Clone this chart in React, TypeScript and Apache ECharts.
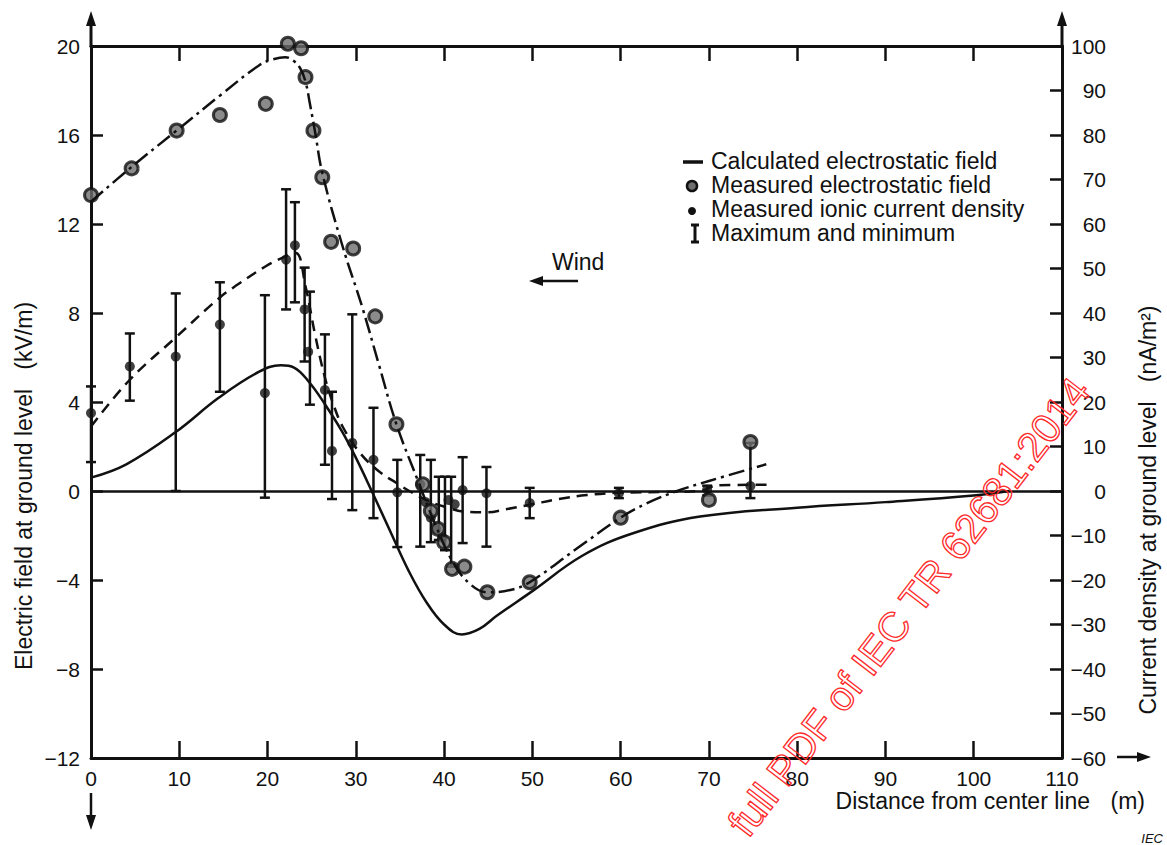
import React, { useEffect, useRef } from "react";
import * as echarts from "echarts";

// ---- data (x in m) ----
// Calculated electrostatic field (kV/m), dash-dot
const calcField: [number, number][] = [
  [0, 13.0], [4.4, 14.5], [9.7, 16.2], [14.7, 17.8], [19.1, 19.15], [20.6, 19.4], [22.0, 19.5],
  [22.9, 19.35], [23.7, 19.0], [24.3, 18.4], [24.8, 17.4], [25.4, 16.1], [26.2, 14.3], [28.5, 11.0],
  [30.7, 8.3], [32.6, 5.7], [34.6, 3.0], [37, 0.5], [39, -1.5], [41, -3.2], [43, -4.2], [44.9, -4.55],
  [47.5, -4.45], [49.7, -4.1], [55, -2.6], [60, -1.2], [63, -0.55], [66.4, 0], [70, 0.45], [76.5, 1.2],
];
// Measured electrostatic field (kV/m)
const measuredField: [number, number][] = [
  [0, 13.3], [4.6, 14.5], [9.7, 16.2], [14.6, 16.9], [19.8, 17.4], [22.3, 20.1], [23.8, 19.9],
  [24.3, 18.6], [25.2, 16.2], [26.2, 14.1], [27.2, 11.2], [29.7, 10.9], [32.2, 7.85], [34.6, 3.0],
  [37.6, 0.3], [38.5, -0.9], [39.3, -1.7], [40.0, -2.3], [40.9, -3.5], [42.3, -3.4], [44.9, -4.55],
  [49.7, -4.1], [60, -1.2], [70, -0.4], [74.7, 2.2],
];
// Measured ionic current density (nA/m2)
const ionicCurrent: [number, number][] = [
  [0, 17.5], [4.4, 28], [9.6, 30.2], [14.6, 37.4], [19.7, 22], [22.1, 52], [23.1, 55.2], [24.2, 40.8],
  [24.6, 31.3], [26.5, 22.7], [27.3, 9], [29.6, 10.8], [32, 7], [34.7, -0.3], [37.3, 1.5], [37.9, -2.5],
  [38.5, -6], [39.1, -8.5], [39.8, -10.5], [40.5, -2], [41.2, -3], [42.1, 0.2], [44.8, -0.5],
  [49.7, -2.7], [59.8, -0.5], [69.8, 0.3], [74.7, 1.1],
];
// Maximum and minimum (nA/m2): [x, min, max]
const maxMin: [number, number, number][] = [
  [0, 6.5, 23.5], [4.4, 20.3, 35.4], [9.6, 0, 44.4], [14.6, 22.3, 46.9], [19.7, -1.5, 44],
  [22.1, 40.8, 67.8], [23.1, 42.4, 64.9], [24.2, 29.1, 50.2], [24.8, 19.4, 44.8], [26.5, 5.9, 35.2],
  [27.3, -1.8, 22.3], [29.6, -4.3, 39.7], [32, -6.1, 18.7], [34.7, -12.6, 7.0], [37.3, -12.5, 8.1],
  [38.5, -11.5, 7.0], [39.4, -11, 3.2], [40.1, -13.3, 3.2], [40.8, -17, 3.2], [42.1, -11.7, 7.6],
  [44.8, -12.5, 5.4], [49.7, -6.1, 0.7], [59.8, -1.6, 0.7], [69.8, -1.0, 1.2], [74.7, -1.6, 10.8],
];
// Dashed curve (nA/m2)
const dashedCurve: [number, number][] = [
  [0, 14.5], [4.4, 25], [9.6, 34.5], [14.6, 43.5], [16.7, 46.5], [19.8, 50.5], [22.1, 52.8], [23.2, 53.5],
  [24.3, 46], [25.4, 35], [26.5, 25.5], [27.4, 19.8], [28.5, 14.5], [30.5, 8.5], [32.7, 4.3], [34.6, 1.8],
  [36.5, -0.5], [38.5, -2.5], [40.5, -3.8], [42.1, -4.6], [44.8, -4.8], [47, -4.1], [49.7, -3.1],
  [53, -1.8], [56.2, -0.9], [59.7, -0.4], [65, -0.2], [69, 0], [71, 1.3], [76.7, 1.4],
];
// Solid curve (kV/m)
const solidCurve: [number, number][] = [
  [0, 0.6], [4, 1.2], [9.6, 2.65], [14.5, 4.2], [19, 5.35], [21.5, 5.65], [23, 5.55], [24.7, 4.9],
  [26.5, 3.9], [28.4, 2.7], [30, 1.5], [31.8, 0], [34, -1.9], [36, -3.6], [38, -5.0], [40, -6.0],
  [42, -6.45], [44, -6.2], [46, -5.6], [50, -4.5], [55.7, -2.9], [61.4, -1.9], [69, -1.15],
  [80, -0.75], [90, -0.5], [100, -0.2], [104, 0],
];
const legendLabels = [
  "Calculated electrostatic field",
  "Measured electrostatic field",
  "Measured ionic current density",
  "Maximum and minimum",
];
const xTitle = "Distance from center line";
const xUnit = "(m)";
const yLeftTitle = "Electric field at ground level   (kV/m)";
const yRightTitle = "Current density at ground level   (nA/m\u00B2)";

const FONT = "Liberation Sans, Arial, sans-serif";
const INK = "#111";
const fmt = (v: number) => (v < 0 ? "\u2212" + Math.abs(v) : String(v));

export default function App() {
  const ref = useRef<HTMLDivElement>(null);
  useEffect(() => {
    if (!ref.current) return;
    const chart = echarts.init(ref.current, undefined, { renderer: "svg" });
    const lineW = 2.5;
    const smooth = 0.4;
    const axisCommon = {
      axisLine: { show: true, onZero: false, lineStyle: { color: INK, width: 3 } },
      splitLine: { show: false },
    };
    const arrowUp = (x: number) => [
      { type: "line", shape: { x1: x, y1: 47, x2: x, y2: 22 }, style: { stroke: INK, lineWidth: 3 } },
      { type: "polygon", shape: { points: [[x, 11], [x - 5, 26], [x + 5, 26]] }, style: { fill: INK } },
    ];
    const legendY = [161, 185, 209, 233];
    const option: any = {
      animation: false,
      grid: { left: 91, right: 105, top: 46, bottom: 87 },
      xAxis: [
        {
          type: "value", min: 0, max: 110, interval: 10, position: "bottom", ...axisCommon,
          axisTick: { show: true, inside: true, length: 17, lineStyle: { color: INK, width: 2.5 } },
          axisLabel: { fontSize: 21, margin: 10, color: INK, fontFamily: FONT },
        },
        {
          type: "value", min: 0, max: 110, interval: 10, position: "top", ...axisCommon,
          axisTick: { show: true, inside: true, length: 15, lineStyle: { color: INK, width: 2.5 } },
          axisLabel: { show: false },
        },
      ],
      yAxis: [
        {
          type: "value", min: -12, max: 20, interval: 4, position: "left", ...axisCommon,
          axisTick: { show: true, inside: true, length: 12, lineStyle: { color: INK, width: 2.5 } },
          axisLabel: { fontSize: 21, margin: 11, color: INK, fontFamily: FONT, formatter: fmt },
        },
        {
          type: "value", min: -60, max: 100, interval: 10, position: "right", ...axisCommon,
          axisTick: { show: true, inside: true, length: 12, lineStyle: { color: INK, width: 2.5 } },
          axisLabel: { fontSize: 21, margin: 44, align: "right", color: INK, fontFamily: FONT, formatter: fmt },
        },
      ],
      series: [
        {
          name: "solid", type: "line", data: solidCurve, xAxisIndex: 0, yAxisIndex: 0, showSymbol: false,
          smooth, clip: false,
          lineStyle: { color: INK, width: lineW, type: "solid" },
          markLine: {
            silent: true, symbol: "none", label: { show: false },
            lineStyle: { color: INK, width: 2.5, type: "solid" }, data: [{ yAxis: 0 }],
          },
        },
        {
          name: "dashed", type: "line", data: dashedCurve, xAxisIndex: 0, yAxisIndex: 1, showSymbol: false,
          smooth, clip: false,
          lineStyle: { color: INK, width: lineW, type: [11, 7] },
        },
        {
          name: legendLabels[0], type: "line", data: calcField, xAxisIndex: 0, yAxisIndex: 0, showSymbol: false,
          smooth, clip: false,
          lineStyle: { color: INK, width: lineW, type: [16, 5, 3, 5] },
        },
        {
          name: legendLabels[3], type: "custom", xAxisIndex: 0, yAxisIndex: 1, data: maxMin,
          encode: { x: 0, y: [1, 2] }, clip: false,
          renderItem: (_p: any, api: any) => {
            const x = api.value(0);
            const lo = api.coord([x, api.value(1)]);
            const hi = api.coord([x, api.value(2)]);
            const hw = 5;
            const style = { stroke: INK, lineWidth: 2.5 };
            return {
              type: "group",
              children: [
                { type: "line", shape: { x1: lo[0], y1: lo[1], x2: hi[0], y2: hi[1] }, style },
                { type: "line", shape: { x1: lo[0] - hw, y1: lo[1], x2: lo[0] + hw, y2: lo[1] }, style },
                { type: "line", shape: { x1: hi[0] - hw, y1: hi[1], x2: hi[0] + hw, y2: hi[1] }, style },
              ],
            };
          },
        },
        {
          name: legendLabels[2], type: "scatter", data: ionicCurrent, xAxisIndex: 0, yAxisIndex: 1,
          symbol: "circle", symbolSize: 10, clip: false, itemStyle: { color: INK },
        },
        {
          name: legendLabels[1], type: "scatter", data: measuredField, xAxisIndex: 0, yAxisIndex: 0,
          symbol: "circle", symbolSize: 13, clip: false,
          itemStyle: { color: "#6e6e6e", borderColor: "#111", borderWidth: 3 },
        },
      ],
      graphic: [
        ...arrowUp(91),
        ...arrowUp(1062),
        { type: "line", shape: { x1: 91, y1: 793, x2: 91, y2: 818 }, style: { stroke: INK, lineWidth: 2.5 } },
        { type: "polygon", shape: { points: [[91, 830], [86, 815], [96, 815]] }, style: { fill: INK } },
        { type: "line", shape: { x1: 1117, y1: 757, x2: 1140, y2: 757 }, style: { stroke: INK, lineWidth: 2.5 } },
        { type: "polygon", shape: { points: [[1151, 757], [1137, 752], [1137, 762]] }, style: { fill: INK } },
        // legend
        { type: "line", shape: { x1: 683, y1: 162, x2: 703, y2: 162 }, style: { stroke: INK, lineWidth: 3.5 } },
        { type: "circle", shape: { cx: 692, cy: 186, r: 5 }, style: { fill: "#6e6e6e", stroke: "#111", lineWidth: 2.5 } },
        { type: "circle", shape: { cx: 692, cy: 211, r: 4 }, style: { fill: INK } },
        { type: "line", shape: { x1: 695, y1: 225, x2: 695, y2: 242 }, style: { stroke: INK, lineWidth: 3 } },
        { type: "line", shape: { x1: 691, y1: 225, x2: 699, y2: 225 }, style: { stroke: INK, lineWidth: 3 } },
        { type: "line", shape: { x1: 691, y1: 242, x2: 699, y2: 242 }, style: { stroke: INK, lineWidth: 3 } },
        ...legendLabels.map((t, i) => ({
          type: "text", x: 711, y: legendY[i],
          style: { text: t, fill: INK, font: `23px ${FONT}`, verticalAlign: "middle" },
        })),
        // wind
        { type: "text", x: 552, y: 262, style: { text: "Wind", fill: INK, font: `23px ${FONT}`, verticalAlign: "middle" } },
        { type: "line", shape: { x1: 540, y1: 281, x2: 578, y2: 281 }, style: { stroke: INK, lineWidth: 2.5 } },
        { type: "polygon", shape: { points: [[529, 281], [543, 276], [543, 286]] }, style: { fill: INK } },
        // axis titles
        { type: "text", x: 1090, y: 801, style: { text: xTitle, fill: INK, font: `23px ${FONT}`, align: "right", verticalAlign: "middle" } },
        { type: "text", x: 1145, y: 801, style: { text: xUnit, fill: INK, font: `23px ${FONT}`, align: "right", verticalAlign: "middle" } },
        { type: "text", x: 24, y: 486, rotation: Math.PI / 2, style: { text: yLeftTitle, fill: INK, font: `23px ${FONT}`, align: "center", verticalAlign: "middle" } },
        { type: "text", x: 1148, y: 510, rotation: Math.PI / 2, style: { text: yRightTitle, fill: INK, font: `23px ${FONT}`, align: "center", verticalAlign: "middle" } },
        { type: "text", x: 1163, y: 838, style: { text: "IEC", fill: INK, font: `italic 13px ${FONT}`, align: "right", verticalAlign: "middle" } },
        // watermark
        {
          type: "text", x: 909, y: 607, rotation: (52.5 * Math.PI) / 180, z: 100,
          style: { text: "full PDF of IEC TR 62681:2014", fill: "rgba(255,255,255,0)", stroke: "#ff2a2a", lineWidth: 1.3, font: `41px ${FONT}`, align: "center", verticalAlign: "middle" },
        },
      ],
    };
    chart.setOption(option);
    return () => chart.dispose();
  }, []);
  return <div ref={ref} style={{ position: "fixed", left: 0, top: 0, width: 1167, height: 845, background: "#fff" }} />;
}
